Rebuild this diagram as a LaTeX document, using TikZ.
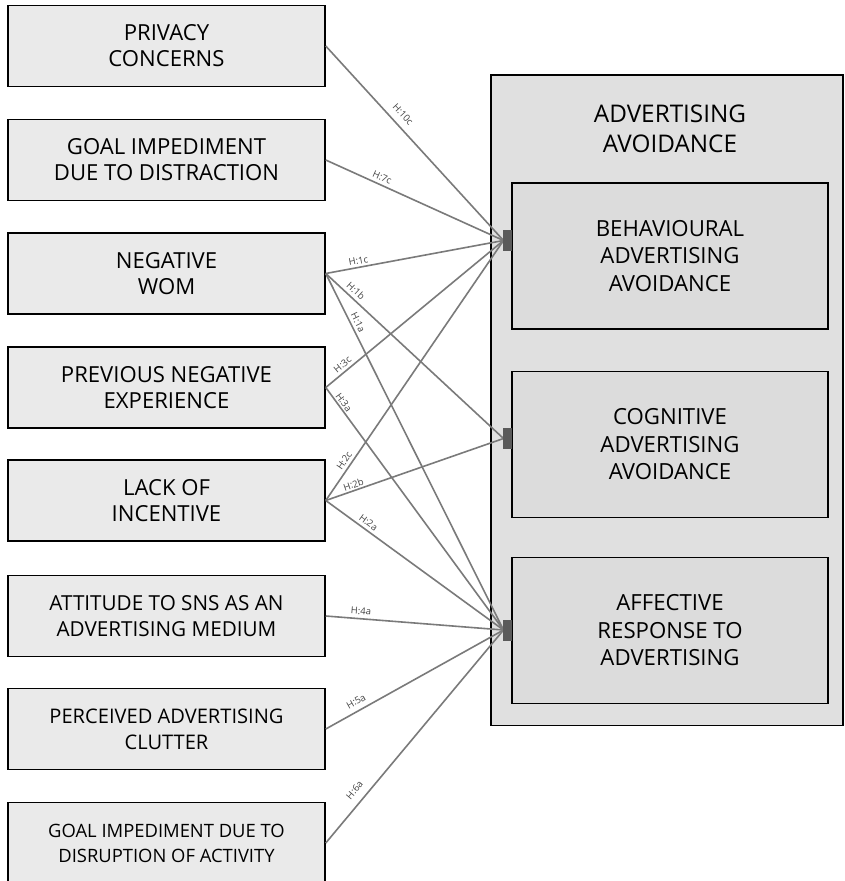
\documentclass[tikz,border=0pt]{standalone}
\usepackage{fontspec}
\setmainfont{Open Sans}
\definecolor{leftfill}{HTML}{EAEAEA}
\definecolor{outerfill}{HTML}{E0E0E0}
\definecolor{innerfill}{HTML}{DCDCDC}
\definecolor{linkgray}{HTML}{7A7A7A}
\definecolor{labgray}{HTML}{444444}
\definecolor{sqgray}{HTML}{5A5A5A}
\tikzset{
  leftbox/.style={draw=black, line width=1.5pt, fill=leftfill, minimum width=317pt, minimum height=81pt, inner sep=0pt, align=center, font=\fontsize{22.1}{26}\selectfont},
  innerbox/.style={draw=black, line width=1.5pt, fill=innerfill, minimum width=316pt, minimum height=146pt, inner sep=0pt, align=center, font=\fontsize{22.2}{27.5}\selectfont},
  link/.style={draw=linkgray, line width=1.6pt},
  hlab/.style={sloped, font=\fontsize{9.5}{10}\selectfont, text=labgray, inner sep=0pt},
  sq/.style={fill=sqgray, minimum width=9pt, minimum height=21pt, inner sep=0pt, draw=none}
}
\begin{document}
\begin{tikzpicture}[x=1pt,y=-1pt]
\clip (0,0) rectangle (844,881);
\fill[white] (0,0) rectangle (844,881);
% outer box
\draw[line width=1.5pt, fill=outerfill] (491,75) rectangle (843,725.5);
\node[align=center, font=\fontsize{24.3}{30}\selectfont] (title) at (670,128.5) {ADVERTISING\\AVOIDANCE};
\node[innerbox] (A) at (670,256) {BEHAVIOURAL\\ADVERTISING\\AVOIDANCE};
\node[innerbox] (B) at (670,444.5) {COGNITIVE\\ADVERTISING\\AVOIDANCE};
\node[innerbox] (C) at (670,630.5) {AFFECTIVE\\RESPONSE TO\\ADVERTISING};
% left boxes
\node[leftbox] (b1) at (166.5,46) {PRIVACY\\CONCERNS};
\node[leftbox] (b2) at (166.5,160) {GOAL IMPEDIMENT\\DUE TO DISTRACTION};
\node[leftbox] (b3) at (166.5,273.5) {NEGATIVE\\WOM};
\node[leftbox] (b4) at (166.5,387.5) {PREVIOUS NEGATIVE\\EXPERIENCE};
\node[leftbox] (b5) at (166.5,500.5) {LACK OF\\INCENTIVE};
\node[leftbox, font=\fontsize{20.7}{26}\selectfont] (b6) at (166.5,616) {ATTITUDE TO SNS AS AN\\ADVERTISING MEDIUM};
\node[leftbox, font=\fontsize{20.1}{26}\selectfont] (b7) at (166.5,729) {PERCEIVED ADVERTISING\\CLUTTER};
\node[leftbox, font=\fontsize{18.4}{25}\selectfont] (b8) at (166.5,843) {GOAL IMPEDIMENT DUE TO\\DISRUPTION OF ACTIVITY};
% end points
\coordinate (pA) at (503.5,240.5);
\coordinate (pB) at (503.5,438.5);
\coordinate (pC) at (503.5,630);
% links
\draw[link] (b1.east) -- node[hlab, pos=.39, above=6.5pt] {H:10c} (pA);
\draw[link] (b2.east) -- node[hlab, pos=.30, above=3.2pt] {H:7c} (pA);
\draw[link] (b3.east) -- node[hlab, pos=.19, above=2.2pt] {H:1c} (pA);
\draw[link] (b3.east) -- node[hlab, pos=.14, above=3.2pt] {H:1b} (pB);
\draw[link] (b3.east) -- node[hlab, pos=.146, above=2.8pt] {H:1a} (pC);
\draw[link] (b4.east) -- node[hlab, pos=.12, above=2.8pt] {H:3c} (pA);
\draw[link] (b4.east) -- node[hlab, pos=.075, above=1.5pt] {H:3a} (pC);
\draw[link] (b5.east) -- node[hlab, pos=.137, above=2.8pt] {H:2c} (pA);
\draw[link] (b5.east) -- node[hlab, pos=.167, above=1.5pt] {H:2b} (pB);
\draw[link] (b5.east) -- node[hlab, pos=.216, above=3pt] {H:2a} (pC);
\draw[link] (b6.east) -- node[hlab, pos=.195, above=3.5pt] {H:4a} (pC);
\draw[link] (b7.east) -- node[hlab, pos=.196, above=5pt] {H:5a} (pC);
\draw[link] (b8.east) -- node[hlab, pos=.213, above=7.5pt] {H:6a} (pC);
% squares
\node[sq] (sA) at (507.5,240.5) {};
\node[sq] (sB) at (507.5,438.5) {};
\node[sq] (sC) at (507.5,630) {};
\end{tikzpicture}
\end{document}
